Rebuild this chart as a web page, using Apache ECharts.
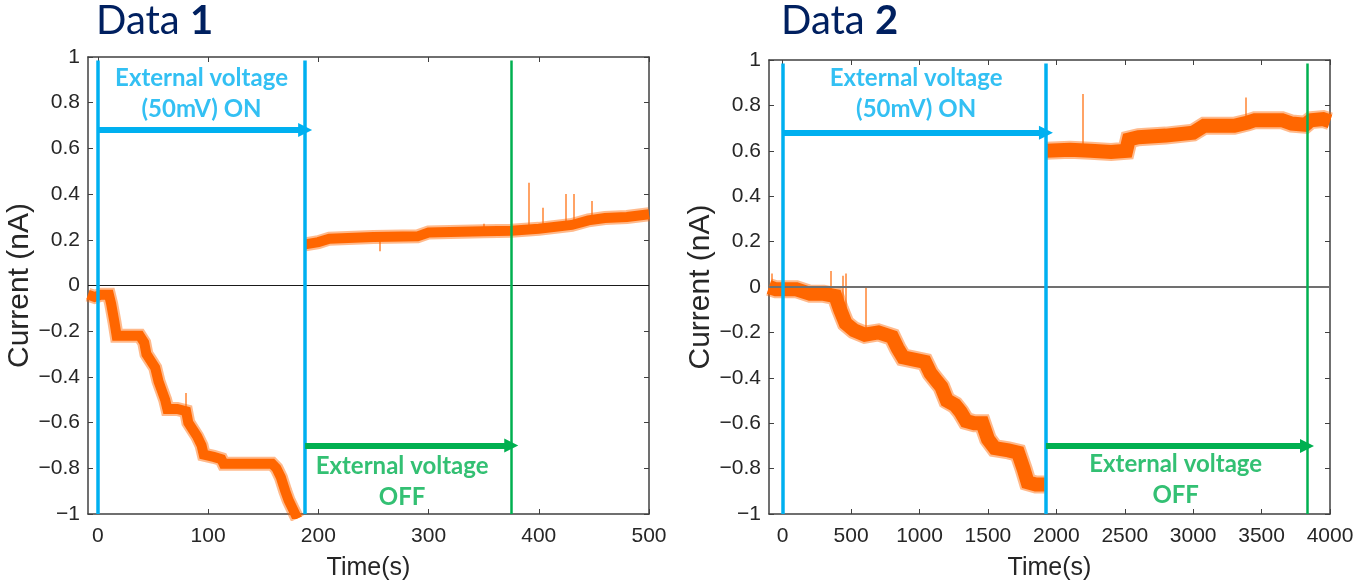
<!DOCTYPE html>
<html><head><meta charset="utf-8">
<script src="https://cdn.jsdelivr.net/npm/echarts@6/dist/echarts.min.js"></script>
<style>html,body{margin:0;padding:0;background:#fff}#c{width:1371px;height:584px}</style>
</head><body><div id="c"></div>
<script>
// ---------------- Data 1 ----------------
const d1TimeA = [-9,-3,3,10,12,15,17,22,30,38,42,44,48,52,55,58,61,63,72,80,82,86,90,94,96,105,112,114,130,145,158,162,166,170,173,177,181];
const d1CurrA = [-0.04,-0.05,-0.04,-0.04,-0.08,-0.16,-0.22,-0.22,-0.22,-0.22,-0.25,-0.3,-0.33,-0.36,-0.42,-0.46,-0.5,-0.54,-0.54,-0.55,-0.6,-0.63,-0.66,-0.7,-0.74,-0.75,-0.76,-0.78,-0.78,-0.78,-0.78,-0.8,-0.84,-0.9,-0.94,-0.98,-1.02];
const d1TimeB = [188,200,210,250,290,300,350,375,400,430,445,460,480,500];
const d1CurrB = [0.18,0.19,0.205,0.212,0.215,0.232,0.237,0.24,0.248,0.265,0.285,0.295,0.3,0.312];
const d1SpikeTime = [80,256,350,390.5,403.5,424.6,431.9,447.9];
const d1SpikeBase = [-0.54,0.21,0.24,0.25,0.25,0.26,0.26,0.28];
const d1SpikeTip  = [-0.47,0.15,0.27,0.45,0.34,0.40,0.40,0.37];
const d1Events = [0, 188, 375];          // voltage ON, voltage OFF, end of OFF period
const d1Arrows = [0.68, -0.70];          // heights of ON / OFF arrows
const d1TextPos = [[94, 0.84], [276, -0.86]];

// ---------------- Data 2 ----------------
const d2TimeA = [-100,-50,0,100,200,300,385,420,460,520,600,700,800,840,880,960,1040,1080,1120,1160,1200,1260,1300,1340,1400,1460,1500,1550,1650,1720,1760,1790,1850,1915];
const d2CurrA = [0.0,-0.01,-0.01,-0.01,-0.03,-0.03,-0.04,-0.1,-0.16,-0.19,-0.21,-0.2,-0.22,-0.27,-0.31,-0.32,-0.33,-0.38,-0.41,-0.44,-0.5,-0.52,-0.55,-0.59,-0.6,-0.6,-0.67,-0.71,-0.72,-0.73,-0.8,-0.86,-0.87,-0.87];
const d2TimeB = [1925,2100,2250,2400,2510,2530,2600,2800,3000,3080,3300,3400,3450,3650,3720,3820,3860,3950,4000];
const d2CurrB = [0.6,0.605,0.6,0.595,0.6,0.65,0.66,0.667,0.68,0.71,0.71,0.725,0.735,0.735,0.72,0.715,0.735,0.74,0.73];
const d2SpikeTime = [-80,350,440,460,605,2190,3387];
const d2SpikeBase = [0.0,-0.03,-0.1,-0.12,-0.21,0.61,0.725];
const d2SpikeTip  = [0.06,0.07,0.05,0.06,0.0,0.85,0.835];
const d2Events = [0, 1924, 3832];
const d2Arrows = [0.68, -0.70];
const d2TextPos = [[975, 0.85], [2872, -0.85]];

const xTicks1 = [0,100,200,300,400,500];
const xTicks2 = [0,500,1000,1500,2000,2500,3000,3500,4000];
const onText = 'External voltage\n(50mV) ON';
const offText = 'External voltage\nOFF';

const BLUE = '#00b0f0', GREEN = '#00b050', ORANGE = '#ff6600', AX = '#404040', TXT = '#262626';
const tickFont = "'Liberation Sans Narrow','Liberation Sans',Arial,sans-serif";
const nameFont = "'Liberation Sans',Arial,sans-serif";

function zip(a, b) { return a.map((v, i) => [v, b[i]]); }

function xAxes(g, min, max, ticks) {
  const line = { show: true, onZero: false, lineStyle: { color: AX, width: 1.5 } };
  return [
    { gridIndex: g, type: 'value', min, max, position: 'bottom', axisLine: line,
      axisTick: { show: true, inside: true, length: 5, customValues: ticks, lineStyle: { color: AX } },
      axisLabel: { show: true, customValues: ticks, margin: 12, fontSize: 21, color: TXT, fontFamily: tickFont,
        formatter: v => String(Math.round(v)) },
      splitLine: { show: false },
      name: 'Time(s)', nameLocation: 'middle', nameGap: 42,
      nameTextStyle: { fontSize: 25, color: TXT, fontFamily: nameFont } },
    { gridIndex: g, type: 'value', min, max, position: 'top', axisLine: line,
      axisTick: { show: true, inside: true, length: 5, customValues: ticks, lineStyle: { color: AX } },
      axisLabel: { show: false }, splitLine: { show: false } }
  ];
}
function yAxes(g) {
  const line = { show: true, onZero: false, lineStyle: { color: AX, width: 1.5 } };
  return [
    { gridIndex: g, type: 'value', min: -1, max: 1, interval: 0.2, position: 'left', axisLine: line,
      axisTick: { show: true, inside: true, length: 5, lineStyle: { color: AX } },
      axisLabel: { margin: 8, fontSize: 21, color: TXT, fontFamily: tickFont,
        formatter: v => String(+(+v).toFixed(1)).replace('-', '\u2212') },
      splitLine: { show: false },
      name: 'Current (nA)', nameLocation: 'middle', nameGap: 49, nameRotate: 90,
      nameTextStyle: { fontSize: 30, color: TXT, fontFamily: nameFont } },
    { gridIndex: g, type: 'value', min: -1, max: 1, interval: 0.2, position: 'right', axisLine: line,
      axisTick: { show: true, inside: true, length: 5, lineStyle: { color: AX } },
      axisLabel: { show: false }, splitLine: { show: false } }
  ];
}

function seriesFor(g, tA, cA, tB, cB, sT, sB, sTip, ev, arrows, textPos, bandW, zeroStyle, xmin, xmax) {
  const base = { xAxisIndex: g * 2, yAxisIndex: g * 2 };
  const out = [];
  // data: pale noise fringe + dense core
  [[tA, cA], [tB, cB]].forEach(([t, c]) => {
    out.push(Object.assign({ type: 'line', showSymbol: false, z: 2, clip: true, silent: true,
      lineStyle: { color: ORANGE, width: bandW + 4, opacity: 0.45, join: 'miter' }, data: zip(t, c) }, base));
    out.push(Object.assign({ type: 'line', showSymbol: false, z: 3, clip: true,
      lineStyle: { color: ORANGE, width: bandW, join: 'miter' }, data: zip(t, c) }, base));
  });
  // spikes
  out.push(Object.assign({ type: 'lines', coordinateSystem: 'cartesian2d', z: 3,
    lineStyle: { color: ORANGE, width: 1.5, opacity: 0.8 },
    data: sT.map((t, i) => ({ coords: [[t, sB[i]], [t, sTip[i]]] })) }, base));
  // zero line on top of data
  out.push(Object.assign({ type: 'lines', coordinateSystem: 'cartesian2d', silent: true, z: 5,
    lineStyle: Object.assign({ opacity: 1 }, zeroStyle), data: [{ coords: [[xmin, 0], [xmax, 0]] }] }, base));
  // event lines
  out.push(Object.assign({ type: 'lines', coordinateSystem: 'cartesian2d', z: 6,
    data: [
      { coords: [[ev[0], 0.985], [ev[0], -1]], lineStyle: { color: BLUE, width: 3.5, opacity: 1 } },
      { coords: [[ev[1], 0.985], [ev[1], -1]], lineStyle: { color: BLUE, width: 3.5, opacity: 1 } },
      { coords: [[ev[2], 0.985], [ev[2], -1]], lineStyle: { color: GREEN, width: 2.5, opacity: 1 } }
    ] }, base));
  // arrows
  out.push(Object.assign({ type: 'lines', coordinateSystem: 'cartesian2d', z: 6,
    symbol: ['none', 'triangle'], symbolSize: [14, 14],
    data: [
      { coords: [[ev[0], arrows[0]], [ev[1], arrows[0]]], lineStyle: { color: BLUE, width: 6, opacity: 1 } },
      { coords: [[ev[1], arrows[1]], [ev[2], arrows[1]]], lineStyle: { color: GREEN, width: 6, opacity: 1 } }
    ] }, base));
  // annotation text
  out.push(Object.assign({ type: 'scatter', symbolSize: 0, z: 7, silent: true,
    data: [
      { value: textPos[0], label: { formatter: onText, color: BLUE } },
      { value: textPos[1], label: { formatter: offText, color: GREEN } }
    ],
    label: { show: true, position: 'inside', fontFamily: 'Lato, sans-serif', fontWeight: 'bold',
      fontSize: 24, lineHeight: 31, align: 'center', verticalAlign: 'middle' } }, base));
  return out;
}

const chart = echarts.init(document.getElementById('c'), null, { renderer: 'canvas' });
const titleRich = {
  a: { fontSize: 40, fontFamily: 'Lato, sans-serif', fill: '#002060' },
  b: { fontSize: 40, fontFamily: 'Lato, sans-serif', fontWeight: 'bold', fill: '#002060' }
};
const option = {
  animation: false,
  backgroundColor: '#ffffff',
  grid: [
    { left: 88, top: 57, width: 561, height: 457, containLabel: false, outerBoundsMode: 'none' },
    { left: 769, top: 60, width: 561, height: 454, containLabel: false, outerBoundsMode: 'none' }
  ],
  xAxis: [].concat(xAxes(0, -9, 500, xTicks1), xAxes(1, -100, 4000, xTicks2)),
  yAxis: [].concat(yAxes(0), yAxes(1)),
  graphic: [
    { type: 'text', left: 96, top: 1, style: { text: '{a|Data }{b|1}', rich: titleRich } },
    { type: 'text', left: 781, top: 1, style: { text: '{a|Data }{b|2}', rich: titleRich } }
  ],
  series: [].concat(
    seriesFor(0, d1TimeA, d1CurrA, d1TimeB, d1CurrB, d1SpikeTime, d1SpikeBase, d1SpikeTip, d1Events, d1Arrows, d1TextPos, 10,
      { color: '#1a1a1a', width: 1.2 }, -9, 500),
    seriesFor(1, d2TimeA, d2CurrA, d2TimeB, d2CurrB, d2SpikeTime, d2SpikeBase, d2SpikeTip, d2Events, d2Arrows, d2TextPos, 14,
      { color: '#707070', width: 2 }, -100, 4000)
  )
};
chart.setOption(option);
</script>
</body></html>
